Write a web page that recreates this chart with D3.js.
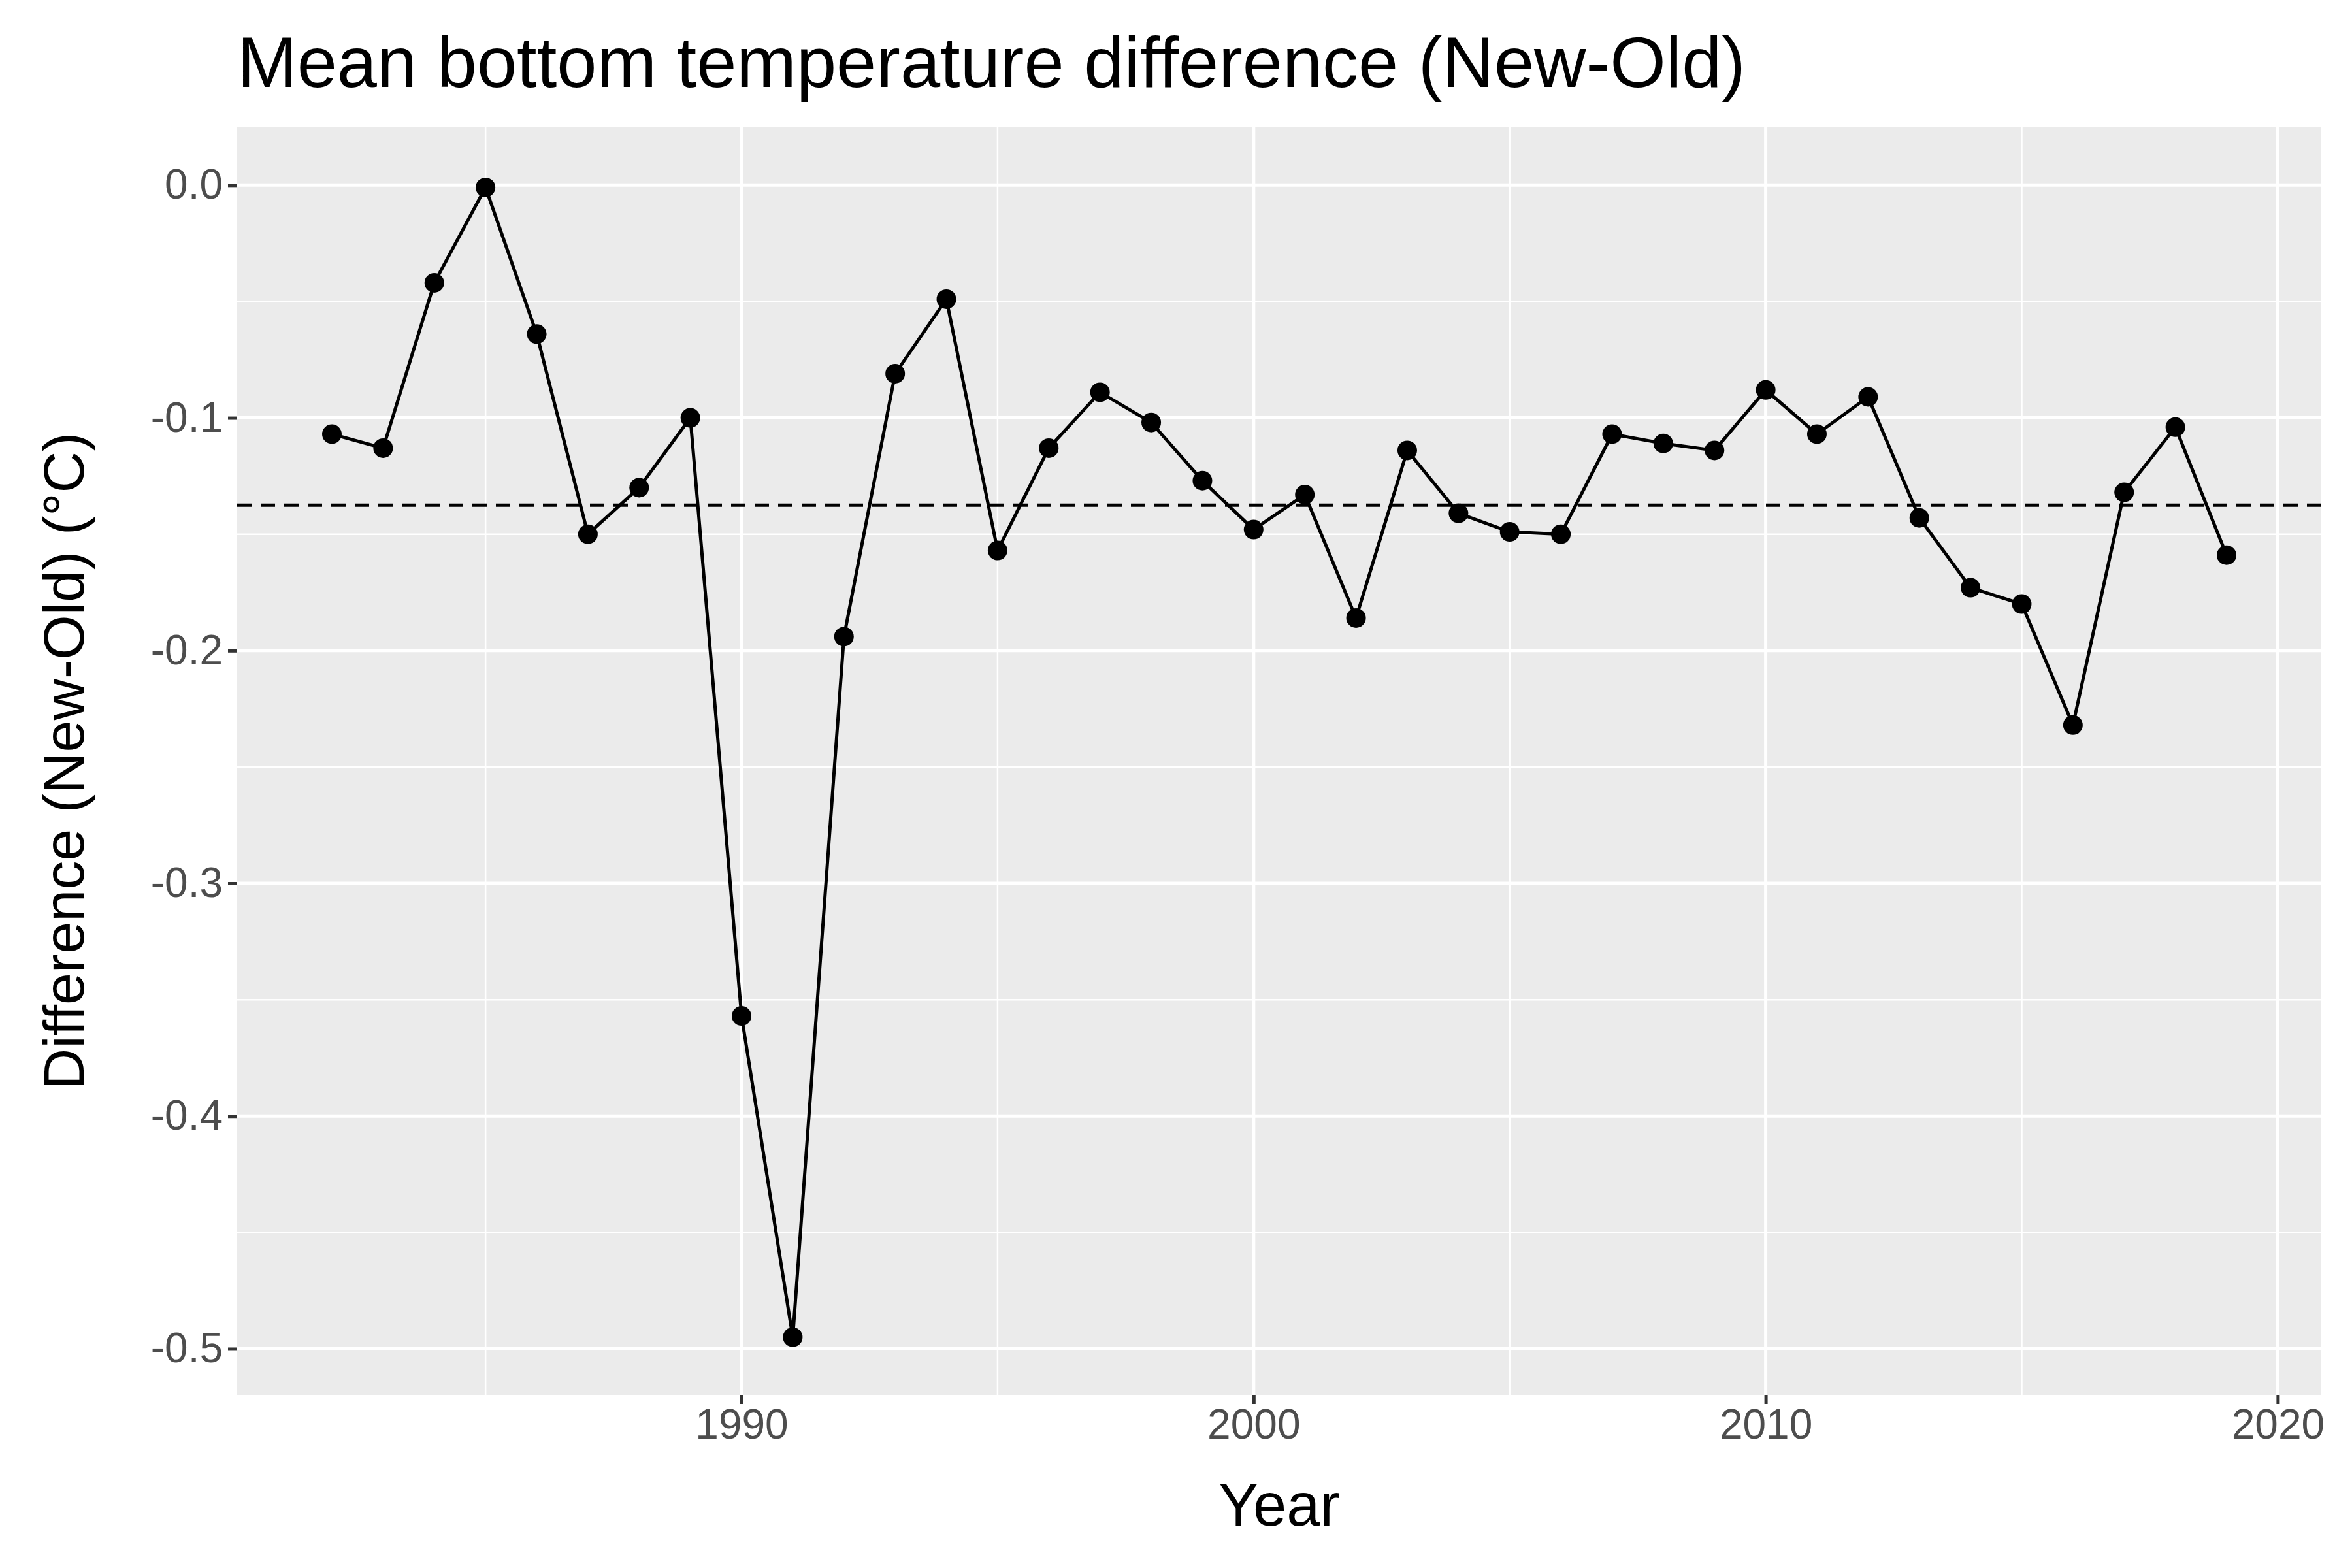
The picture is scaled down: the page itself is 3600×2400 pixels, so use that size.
<!DOCTYPE html>
<html><head><meta charset="utf-8">
<script src="https://cdn.jsdelivr.net/npm/d3@7"></script>
<style>body{margin:0;background:#fff}</style>
</head><body>
<div id="chart"></div>
<script>
var years = d3.range(1982, 2020);
var diffs = [-0.107,-0.113,-0.042,-0.001,-0.064,-0.150,-0.130,-0.100,-0.357,-0.495,
  -0.194,-0.081,-0.049,-0.157,-0.113,-0.089,-0.102,-0.127,-0.148,-0.133,
  -0.186,-0.114,-0.141,-0.149,-0.150,-0.107,-0.111,-0.114,-0.088,-0.107,
  -0.091,-0.143,-0.173,-0.180,-0.232,-0.132,-0.104,-0.159];
var meanDiff = -0.1375;
var xTicks = [1990, 2000, 2010, 2020];
var xMinor = [1985, 1995, 2005, 2015];
var yTicks = [0, -0.1, -0.2, -0.3, -0.4, -0.5];
var yMinor = [-0.05, -0.15, -0.25, -0.35, -0.45];

var W = 3600, H = 2400;
var margin = {top: 195, right: 47, bottom: 265, left: 363};
var width = W - margin.left - margin.right,
    height = H - margin.top - margin.bottom;

var x = d3.scaleLinear().domain([1980.15, 2020.85]).range([0, width]);
var y = d3.scaleLinear().domain([-0.5198, 0.0248]).range([height, 0]);

var svg = d3.select("#chart").append("svg")
  .attr("width", W).attr("height", H)
  .style("font-family", "'Liberation Sans', Arial, sans-serif");

var g = svg.append("g")
  .attr("transform", "translate(" + margin.left + "," + margin.top + ")");

// panel
g.append("rect").attr("width", width).attr("height", height).attr("fill", "#ebebeb");

// minor grid
g.selectAll(".xminor").data(xMinor).enter().append("line")
  .attr("x1", d => x(d)).attr("x2", d => x(d)).attr("y1", 0).attr("y2", height)
  .attr("stroke", "#fff").attr("stroke-width", 2.5);
g.selectAll(".yminor").data(yMinor).enter().append("line")
  .attr("y1", d => y(d)).attr("y2", d => y(d)).attr("x1", 0).attr("x2", width)
  .attr("stroke", "#fff").attr("stroke-width", 2.5);
// major grid
g.selectAll(".xmajor").data(xTicks).enter().append("line")
  .attr("x1", d => x(d)).attr("x2", d => x(d)).attr("y1", 0).attr("y2", height)
  .attr("stroke", "#fff").attr("stroke-width", 5);
g.selectAll(".ymajor").data(yTicks).enter().append("line")
  .attr("y1", d => y(d)).attr("y2", d => y(d)).attr("x1", 0).attr("x2", width)
  .attr("stroke", "#fff").attr("stroke-width", 5);

// axes
var fmtY = d => d3.format(".1f")(d).replace("\u2212", "-");
var xAxis = g.append("g").attr("transform", "translate(0," + height + ")")
  .call(d3.axisBottom(x).tickValues(xTicks).tickFormat(d3.format("d")).tickSize(14).tickPadding(8));
var yAxis = g.append("g")
  .call(d3.axisLeft(y).tickValues(yTicks).tickFormat(fmtY).tickSize(14).tickPadding(8));
[xAxis, yAxis].forEach(function(a) {
  a.select(".domain").remove();
  a.selectAll(".tick line").attr("stroke", "#333").attr("stroke-width", 5);
  a.selectAll(".tick text").attr("fill", "#4d4d4d").style("font-size", "64px")
    .style("font-family", "'Liberation Sans', Arial, sans-serif");
});

// mean line
g.append("line").attr("x1", 0).attr("x2", width)
  .attr("y1", y(meanDiff)).attr("y2", y(meanDiff))
  .attr("stroke", "#000").attr("stroke-width", 5).attr("stroke-dasharray", "22,14");

var pts = years.map((yr, i) => [yr, diffs[i]]);
g.append("path").datum(pts)
  .attr("d", d3.line().x(d => x(d[0])).y(d => y(d[1])))
  .attr("fill", "none").attr("stroke", "#000").attr("stroke-width", 5);
g.selectAll(".pt").data(pts).enter().append("circle")
  .attr("cx", d => x(d[0])).attr("cy", d => y(d[1])).attr("r", 15).attr("fill", "#000");

// titles
svg.append("text").attr("x", 363).attr("y", 133).text("Mean bottom temperature difference (New-Old)")
  .style("font-size", "110px").attr("fill", "#000");
svg.append("text").attr("x", margin.left + width / 2).attr("y", 2335).attr("text-anchor", "middle")
  .text("Year").style("font-size", "92px");
svg.append("text").attr("transform", "translate(128," + (margin.top + height / 2) + ") rotate(-90)")
  .attr("text-anchor", "middle").text("Difference (New-Old)  (°C)").style("font-size", "88px");
</script>
</body></html>
